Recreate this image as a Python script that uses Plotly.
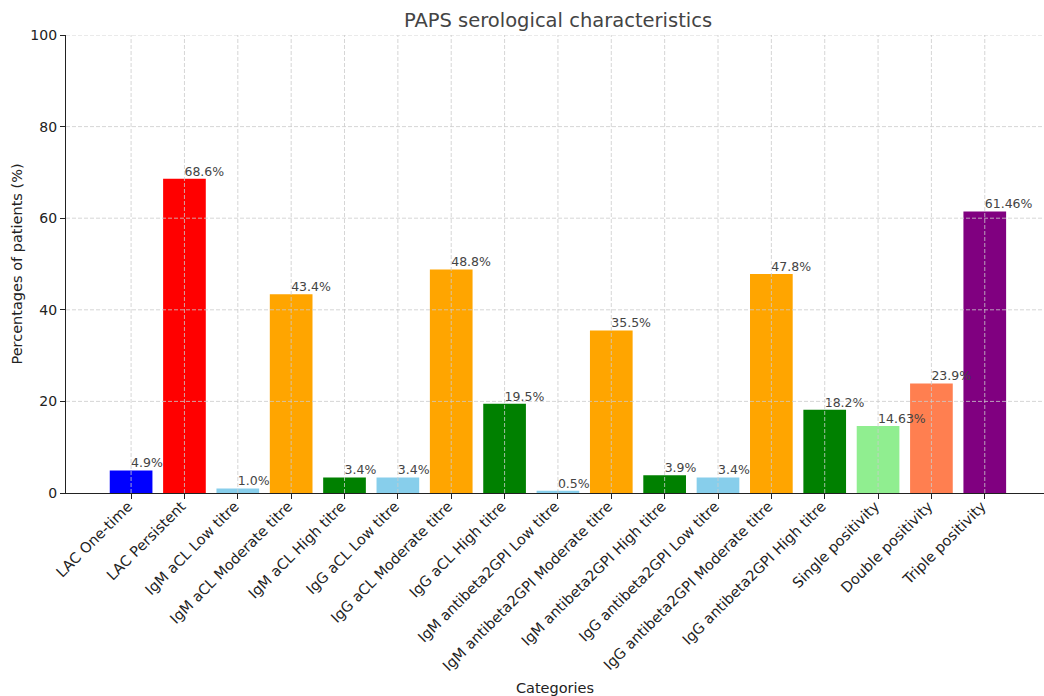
import plotly.graph_objects as go

categories = [
    "LAC One-time", "LAC Persistent", "IgM aCL Low titre", "IgM aCL Moderate titre",
    "IgM aCL High titre", "IgG aCL Low titre", "IgG aCL Moderate titre", "IgG aCL High titre",
    "IgM antibeta2GPI Low titre", "IgM antibeta2GPI Moderate titre", "IgM antibeta2GPI High titre",
    "IgG antibeta2GPI Low titre", "IgG antibeta2GPI Moderate titre", "IgG antibeta2GPI High titre",
    "Single positivity", "Double positivity", "Triple positivity",
]
values = [4.9, 68.6, 1.0, 43.4, 3.4, 3.4, 48.8, 19.5, 0.5, 35.5, 3.9, 3.4, 47.8, 18.2, 14.63, 23.9, 61.46]
bar_colors = [
    "blue", "red", "skyblue", "orange", "green", "skyblue", "orange", "green",
    "skyblue", "orange", "green", "skyblue", "orange", "green",
    "lightgreen", "coral", "purple",
]
y_ticks = [0, 20, 40, 60, 80, 100]

FONT = "DejaVu Sans"

fig = go.Figure()
fig.add_trace(go.Bar(
    x=categories, y=values, marker=dict(color=bar_colors, line=dict(width=0)),
    width=0.8, showlegend=False, hoverinfo="x+y",
))
fig.add_trace(go.Scatter(
    x=categories, y=values, mode="text",
    text=[f"{v}%" for v in values], textposition="top right",
    textfont=dict(family=FONT, size=12.5, color="#444444"),
    showlegend=False, hoverinfo="skip", cliponaxis=False,
))

shapes = []
grid = dict(color="#cccccc", width=0.8, dash="4px,2px")
for c in categories:
    shapes.append(dict(type="line", xref="x", yref="paper", x0=c, x1=c, y0=0, y1=1,
                       line=grid, layer="above"))
for t in y_ticks[1:]:
    shapes.append(dict(type="line", xref="paper", yref="y", x0=0, x1=1, y0=t, y1=t,
                       line=grid, layer="above"))

fig.update_layout(
    width=1044, height=696,
    margin=dict(l=66, r=0, t=35, b=203),
    paper_bgcolor="white", plot_bgcolor="white",
    font=dict(family=FONT, color="#222222", size=14),
    title=dict(text="PAPS serological characteristics", x=558 / 1044, xref="container",
               xanchor="center", y=1 - 20 / 696, yanchor="middle",
               font=dict(family=FONT, size=19.5, color="#444444")),
    shapes=shapes,
    xaxis=dict(
        type="category", range=[-1.22, 17.11], tickangle=-45, automargin=False,
        showgrid=False, showline=True, linecolor="#222222", linewidth=1.2,
        ticks="outside", ticklen=5, tickcolor="#222222",
        ticklabelstandoff=-7, ticklabelshift=-3,
        tickfont=dict(family=FONT, size=14.5, color="#222222"),
        title=dict(text="Categories", font=dict(family=FONT, size=14.5, color="#222222"), standoff=10),
        zeroline=False,
    ),
    yaxis=dict(
        range=[0, 100], tickvals=y_ticks, showgrid=False, automargin=False,
        showline=True, linecolor="#222222", linewidth=1.2,
        ticks="outside", ticklen=5, tickcolor="#222222",
        tickfont=dict(family=FONT, size=14, color="#222222"),
        title=dict(text="Percentages of patients (%)", font=dict(family=FONT, size=14.5, color="#222222"), standoff=4),
        zeroline=False,
    ),
)

fig.write_html("out.html", config={"displayModeBar": False},
               post_script="document.body.style.margin='0';document.body.style.padding='0';")
